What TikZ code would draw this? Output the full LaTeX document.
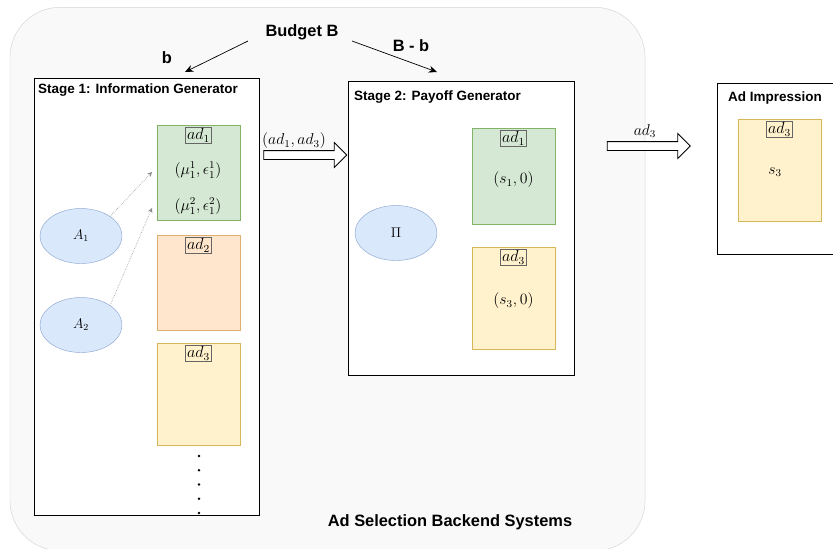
\documentclass[tikz,border=0pt]{standalone}
\usepackage{amsmath,amssymb}
\usepackage{fontspec}
\setsansfont{Liberation Sans}
\usepackage{tikz}
\usetikzlibrary{arrows.meta,positioning,shapes.geometric,shapes.arrows}

\definecolor{greenfill}{HTML}{D5E8D4}
\definecolor{greenline}{HTML}{82B366}
\definecolor{orangefill}{HTML}{FFE6CC}
\definecolor{orangeline}{HTML}{E0B070}
\definecolor{yellowfill}{HTML}{FFF2CC}
\definecolor{yellowline}{HTML}{D6B656}
\definecolor{bluefill}{HTML}{DAE8FC}
\definecolor{blueline}{HTML}{8FA9D3}
\definecolor{backfill}{HTML}{F9F9F9}
\definecolor{backline}{HTML}{D4D4D4}

\begin{document}
\begin{tikzpicture}[
  x=0.03cm,y=-0.03cm,
  every node/.style={font=\fontsize{12}{14}\selectfont},
  mathtext/.style={scale=1.12},
  title/.style={font=\sffamily\bfseries\fontsize{11.5}{13}\selectfont,anchor=west,inner sep=0pt},
  caption/.style={font=\sffamily\bfseries\fontsize{14}{16}\selectfont,inner sep=0pt},
  stagebox/.style={draw,line width=0.8pt,rectangle,inner sep=0pt,fill=white},
  adbox/.style={rectangle,minimum width=2.49cm,inner sep=0pt,line width=0.5pt},
  greenad/.style={adbox,fill=greenfill,draw=greenline},
  orangead/.style={adbox,fill=orangefill,draw=orangeline},
  yellowad/.style={adbox,fill=yellowfill,draw=yellowline},
  tag/.style={draw=black!60,line width=0.6pt,rectangle,inner sep=1pt,anchor=north,scale=1.15},
  agent/.style={ellipse,draw=blueline,fill=bluefill,minimum width=2.46cm,minimum height=1.65cm},
  pass/.style={single arrow,draw,line width=0.7pt,fill=white,minimum height=2.49cm,
    minimum width=0.72cm,single arrow head extend=0.24cm,inner sep=0.12cm},
  split/.style={-{Stealth[length=7pt,width=6pt]},line width=0.6pt},
  query/.style={-{Stealth[length=4pt,width=4pt]},densely dotted,draw=black!45,line width=0.5pt},
  dot/.style={circle,fill,inner sep=0pt,minimum size=2.2pt}
  ]
  \useasboundingbox (0,0) rectangle (833,548);
  \node[draw=backline,fill=backfill,rounded corners=1.5cm,minimum width=19.05cm,
    minimum height=16.3cm,inner sep=0pt] (backend) at (327.5,279) {};
  \node[caption] (system) at (450,522) {Ad Selection Backend Systems};

  \node[caption] (budget) at (302,32) {Budget B};
  \coordinate (bl0) at (248,41);
  \coordinate (bl1) at (185,72);
  \coordinate (br0) at (352,41);
  \coordinate (br1) at (437,72);
  \draw[split] (bl0) -- (bl1);
  \draw[split] (br0) -- (br1);
  \node[caption] (blabel) at (167,58) {b};
  \node[caption] (brlabel) at (411,46) {B - b};

  % stage 1
  \node[stagebox,minimum width=6.75cm,minimum height=13.11cm] (stage1) at (146.5,296.5) {};
  \node[title] (stage1text) at (38,90) {Stage 1: Information Generator};
  \node[greenad,minimum height=2.85cm] (ad1) at (198.5,172.5) {};
  \node[tag,fill=greenfill] (ad1tag) at ([yshift=-0.06cm]ad1.north) {$ad_1$};
  \node[mathtext] (mu1) at (198,170) {$(\mu_1^1,\epsilon_1^1)$};
  \node[mathtext] (mu2) at (198,206) {$(\mu_1^2,\epsilon_1^2)$};
  \node[orangead,minimum height=2.85cm] (ad2) at (198.5,282.5) {};
  \node[tag,fill=orangefill] (ad2tag) at ([yshift=-0.06cm]ad2.north) {$ad_2$};
  \node[yellowad,minimum height=3.06cm] (ad3) at (198.5,394) {};
  \node[tag,fill=yellowfill] (ad3tag) at ([yshift=-0.06cm]ad3.north) {$ad_3$};
  \foreach \y [count=\k] in {456,470.25,484.5,498.75,513}
    \node[dot] (dot\k) at (199,\y) {};
  \node[agent] (A1) at (81,236) {$A_1$};
  \node[agent] (A2) at (81,325) {$A_2$};
  \coordinate (q1) at (152,172);
  \coordinate (q2) at (152,208);
  \draw[query] (A1.north east) -- (q1);
  \draw[query] (A2.north east) -- (q2);

  \node[pass] (pass1) at (303,155) {};
  \node[mathtext] (pass1text) at (294,141) {$(ad_1,ad_3)$};

  % stage 2
  \node[stagebox,minimum width=6.78cm,minimum height=8.82cm] (stage2) at (461,228) {};
  \node[title] (stage2text) at (354,97) {Stage 2: Payoff Generator};
  \node[agent] (Pi) at (396,233) {$\Pi$};
  \node[greenad,minimum height=2.88cm] (pay1) at (513.5,176) {};
  \node[tag,fill=greenfill] (pay1tag) at ([yshift=-0.06cm]pay1.north) {$ad_1$};
  \node[mathtext] (s1) at (513.5,180) {$(s_1,0)$};
  \node[yellowad,minimum height=3.06cm] (pay3) at (513.5,298) {};
  \node[tag,fill=yellowfill] (pay3tag) at ([yshift=-0.06cm]pay3.north) {$ad_3$};
  \node[mathtext] (s3) at (513.5,301) {$(s_3,0)$};

  \node[pass] (pass2) at (646.5,146) {};
  \node[mathtext] (pass2text) at (645,131) {$ad_3$};

  % impression
  \node[stagebox,minimum width=3.9cm,minimum height=5.13cm] (imp) at (782,168.5) {};
  \node[title,anchor=center] (imptext) at (775,98) {Ad Impression};
  \node[yellowad,minimum height=3.06cm] (shown) at (779.5,170) {};
  \node[tag,fill=yellowfill] (showntag) at ([yshift=-0.06cm]shown.north) {$ad_3$};
  \node[mathtext] (s3shown) at (775,172) {$s_3$};
\end{tikzpicture}
\end{document}
